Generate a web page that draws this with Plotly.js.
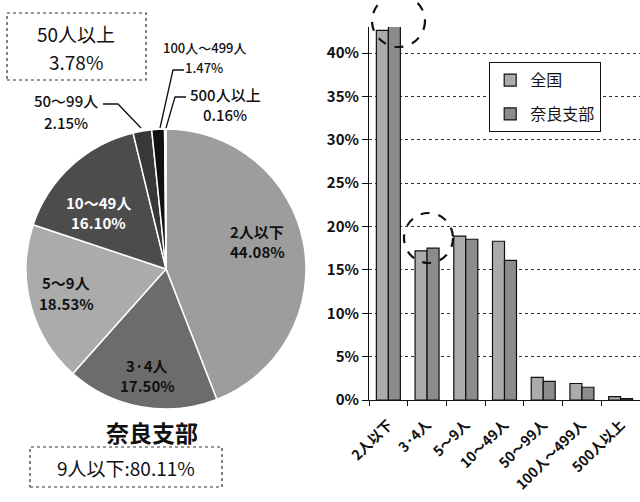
<!DOCTYPE html>
<html><head><meta charset="utf-8">
<script src="https://cdn.plot.ly/plotly-3.0.1.min.js"></script>
<style>html,body{margin:0;padding:0;background:#fff}#chart{width:640px;height:502px}</style>
</head><body><div id="chart"></div>
<script>
// Pie data (奈良支部)
const pieLabels = ['2人以下','3·4人','5～9人','10～49人','50～99人','100人～499人','500人以上'];
const pieValues = [44.08, 17.50, 18.53, 16.10, 2.15, 1.47, 0.16];
const pieColors = ['#9d9d9d','#6c6c6c','#ababab','#4c4c4c','#383838','#111111','#e8e8e8'];
// Bar data
const barCats = ['2人以下','3·4人','5～9人','10～49人','50～99人','100人～499人','500人以上'];
const zenkoku = [42.6, 17.2, 18.9, 18.3, 2.6, 1.9, 0.4];
const naraBar = [44.08, 17.50, 18.53, 16.10, 2.15, 1.47, 0.16];
const yTicks = [0,5,10,15,20,25,30,35,40];
const yTickText = yTicks.map(v => v + '%');

const W = 640, H = 502;
const px = x => x / W, py = y => 1 - y / H;
const font = "'Noto Sans CJK JP', 'Noto Sans', sans-serif";

const traces = [
  {type:'pie', labels:pieLabels, values:pieValues, sort:false, direction:'clockwise', rotation:0,
   marker:{colors:pieColors, line:{color:'#ffffff', width:1.5}}, textinfo:'none', hoverinfo:'label+value',
   showlegend:false, domain:{x:[px(26), px(306)], y:[py(409), py(129)]}},
  {type:'bar', name:'全国', x:barCats, y:zenkoku, xaxis:'x', yaxis:'y', legendgroup:'a',
   marker:{color:'#ababab', line:{color:'#111', width:1.2}}},
  {type:'bar', name:'奈良支部', x:barCats, y:naraBar, xaxis:'x', yaxis:'y', legendgroup:'b',
   marker:{color:'#8c8c8c', line:{color:'#111', width:1.2}}}
];

const ann = (text, x, y, size, color, weight) => ({xref:'paper', yref:'paper', x:px(x), y:py(y),
  xanchor:'center', yanchor:'middle', showarrow:false, text,
  font:{family:font, size, color:color||'#111', weight:weight||400}});
// Pie labels: [index, x, y(first line), y(second line), size, color, weight]
const pieLbl = [
  [0, 257, 231, 251, 15, '#111', 700],
  [1, 147, 365, 385, 15, '#111', 700],
  [2, 66, 282, 303, 15, '#111', 700],
  [3, 98, 202, 222, 15, '#fff', 700],
  [4, 66, 100, 122, 15, '#111', 500],
  [5, 204, 47, 67, 13, '#111', 500],
  [6, 225, 94, 114, 15, '#111', 500]
];
const annotations = [];
pieLbl.forEach(([i, x, y1, y2, s, c, w]) => {
  annotations.push(ann(pieLabels[i], x, y1, s, c, w));
  annotations.push(ann(pieValues[i].toFixed(2) + '%', x, y2, s, c, w));
});
annotations.push(ann('50人以上', 76, 34, 19));
annotations.push(ann((pieValues[4]+pieValues[5]+pieValues[6]).toFixed(2) + '%', 76, 61, 19));
annotations.push(ann('<b>奈良支部</b>', 152, 432, 23));
annotations.push(ann('9人以下:' + (pieValues[0]+pieValues[1]+pieValues[2]).toFixed(2) + '%', 126, 467, 19));

const shapes = [
  {type:'rect', xref:'paper', yref:'paper', x0:px(7), x1:px(146), y0:py(80), y1:py(13), line:{color:'#333', width:1.2, dash:'dot'}},
  {type:'rect', xref:'paper', yref:'paper', x0:px(30), x1:px(222), y0:py(487), y1:py(447), line:{color:'#333', width:1.2, dash:'dot'}},
  {type:'path', xref:'paper', yref:'paper', path:`M ${px(103)} ${py(104)} L ${px(118)} ${py(104)} L ${px(141)} ${py(128)}`, line:{color:'#111', width:1.3}},
  {type:'path', xref:'paper', yref:'paper', path:`M ${px(184)} ${py(70)} L ${px(173)} ${py(70)} L ${px(160)} ${py(128)}`, line:{color:'#111', width:1.3}},
  {type:'path', xref:'paper', yref:'paper', path:`M ${px(186)} ${py(97)} L ${px(175)} ${py(97)} L ${px(166)} ${py(128)}`, line:{color:'#111', width:1.3}},
  {type:'circle', xref:'paper', yref:'paper', x0:px(372), x1:px(425), y0:py(47), y1:py(-5), line:{color:'#111', width:2.2, dash:'dash'}},
  {type:'circle', xref:'paper', yref:'paper', x0:px(404), x1:px(453), y0:py(263), y1:py(213), line:{color:'#111', width:2.2, dash:'dash'}}
];

const layout = {
  width:W, height:H, margin:{l:0, r:0, t:0, b:0}, paper_bgcolor:'#fff', plot_bgcolor:'#fff',
  font:{family:font, color:'#111'},
  barmode:'group', bargap:0.38, bargroupgap:0,
  xaxis:{domain:[px(369), 1], anchor:'y', tickangle:-45, tickfont:{family:font, size:14, color:'#111', weight:600},
    showline:true, linecolor:'#111', ticks:'outside', tickson:'boundaries', ticklen:5, tickcolor:'#111', showgrid:false,
    ticklabelstandoff:10},
  yaxis:{domain:[py(400), py(27)], anchor:'x', range:[0, 43], tickvals:yTicks, ticktext:yTickText,
    tickfont:{family:font, size:15, color:'#111', weight:600}, showline:true, linecolor:'#111', ticks:'outside', ticklen:6,
    tickcolor:'#111', gridcolor:'#333', griddash:'dot', gridwidth:1, zeroline:false},
  legend:{x:px(489), y:py(62), xanchor:'left', yanchor:'top', bgcolor:'#fff', bordercolor:'#111', borderwidth:1.2,
    font:{family:font, size:16, color:'#111'}, tracegroupgap:10, itemwidth:30},
  annotations, shapes
};
Plotly.newPlot('chart', traces, layout, {displayModeBar:false, staticPlot:true});
</script></body></html>
